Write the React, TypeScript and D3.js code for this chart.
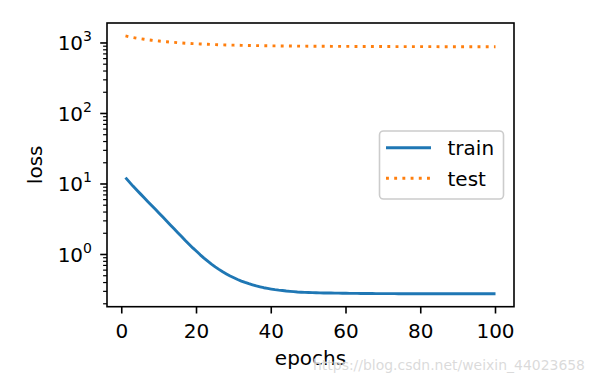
import React from "react";
import * as d3 from "d3";

const epochs: number[] = Array.from({ length: 100 }, (_, i) => i + 1);

const trainLoss: number[] = [
  12.3, 10.7, 9.33, 8.22, 7.24, 6.38, 5.62, 4.95, 4.37, 3.85,
  3.39, 2.99, 2.63, 2.32, 2.04, 1.8, 1.58, 1.4, 1.24, 1.11,
  0.99, 0.89, 0.805, 0.731, 0.668, 0.615, 0.569, 0.53, 0.495, 0.467,
  0.442, 0.42, 0.401, 0.385, 0.371, 0.358, 0.348, 0.338, 0.33, 0.323,
  0.317, 0.312, 0.308, 0.303, 0.3, 0.297, 0.294, 0.292, 0.29, 0.289,
  0.288, 0.287, 0.286, 0.285, 0.285, 0.284, 0.283, 0.283, 0.282, 0.282,
  0.281, 0.281, 0.281, 0.28, 0.28, 0.28, 0.28, 0.279, 0.279, 0.279,
  0.279, 0.279, 0.279, 0.278, 0.278, 0.278, 0.278, 0.278, 0.278, 0.278,
  0.278, 0.278, 0.278, 0.278, 0.278, 0.277, 0.277, 0.277, 0.277, 0.277,
  0.277, 0.277, 0.277, 0.277, 0.277, 0.277, 0.277, 0.277, 0.277, 0.277,
];

const testLoss: number[] = [
  1260, 1225, 1195, 1170, 1148, 1128, 1110, 1094, 1079, 1065,
  1052, 1040, 1029, 1019, 1010, 1001, 993, 986, 979, 973,
  967, 962, 957, 952, 948, 944, 940, 937, 934, 931,
  928, 925, 923, 921, 919, 917, 915, 913, 912, 910,
  909, 908, 907, 906, 905, 904, 903, 902, 901, 900,
  899, 898, 898, 897, 897, 896, 896, 895, 895, 894,
  894, 893, 893, 892, 892, 892, 891, 891, 891, 890,
  890, 890, 889, 889, 889, 889, 888, 888, 888, 888,
  887, 887, 887, 887, 886, 886, 886, 886, 886, 885,
  885, 885, 885, 885, 884, 884, 884, 884, 884, 884,
];

const xTicks: number[] = [0, 20, 40, 60, 80, 100];
const yTickExps: number[] = [0, 1, 2, 3];
const seriesNames: string[] = ["train", "test"];
const xLabel = "epochs";
const yLabel = "loss";
const watermark = "https://blog.csdn.net/weixin_44023658";

const W = 595;
const H = 383;
const L = 107, R = 514, T = 23, B = 306.7;
const FONT = "DejaVu Sans, sans-serif";
const FS = 20;

export default function App() {
  const xMin = 1, xMax = 100;
  const xPad = (xMax - xMin) * 0.05;
  const x = d3.scaleLinear().domain([xMin - xPad, xMax + xPad]).range([L, R]);

  const all = trainLoss.concat(testLoss);
  const lmin = Math.log10(d3.min(all)!);
  const lmax = Math.log10(d3.max(all)!);
  const lp = (lmax - lmin) * 0.05;
  const y = d3.scaleLog().domain([Math.pow(10, lmin - lp), Math.pow(10, lmax + lp)]).range([B, T]);
  const [yd0, yd1] = y.domain();

  const line = (vals: number[]) =>
    d3.line<number>().x((_, i) => x(epochs[i])).y((v) => y(v))(vals) || "";

  const minor: number[] = [];
  for (let e = -2; e <= 4; e++) {
    for (let m = 2; m <= 9; m++) {
      const v = m * Math.pow(10, e);
      if (v >= yd0 && v <= yd1) minor.push(v);
    }
  }

  const colors = ["#1f77b4", "#ff7f0e"];

  return (
    <svg width={W} height={H} style={{ position: "absolute", left: 0, top: 0, background: "#fff" }}>
      <rect x={0} y={0} width={W} height={H} fill="#fff" />
      <defs>
        <clipPath id="clip">
          <rect x={L} y={T} width={R - L} height={B - T} />
        </clipPath>
      </defs>
      <g clipPath="url(#clip)">
        <path d={line(trainLoss)} fill="none" stroke={colors[0]} strokeWidth={2.9} strokeLinejoin="round" />
        <path d={line(testLoss)} fill="none" stroke={colors[1]} strokeWidth={2.9} strokeDasharray="2.9 5.3" />
      </g>
      {/* spines */}
      <rect x={L} y={T} width={R - L} height={B - T} fill="none" stroke="#000" strokeWidth={1.6} />
      {/* x ticks */}
      {xTicks.map((t) => (
        <g key={"x" + t}>
          <line x1={x(t)} x2={x(t)} y1={B} y2={B + 6.8} stroke="#000" strokeWidth={1.6} />
          <text x={x(t)} y={337.5} textAnchor="middle" fontFamily={FONT} fontSize={FS} fill="#000">
            {t}
          </text>
        </g>
      ))}
      {/* y minor ticks */}
      {minor.map((v, i) => (
        <line key={"m" + i} x1={L - 3.9} x2={L} y1={y(v)} y2={y(v)} stroke="#000" strokeWidth={1.2} />
      ))}
      {/* y major ticks */}
      {yTickExps.map((e) => {
        const yy = y(Math.pow(10, e));
        return (
          <g key={"y" + e}>
            <line x1={L - 6.8} x2={L} y1={yy} y2={yy} stroke="#000" strokeWidth={1.6} />
            <text x={92} y={yy + 7.5} textAnchor="end" fontFamily={FONT} fontSize={FS} fill="#000">
              10
              <tspan fontSize={14} dy={-9}>{e}</tspan>
            </text>
          </g>
        );
      })}
      {/* axis labels */}
      <text x={(L + R) / 2} y={365} textAnchor="middle" fontFamily={FONT} fontSize={FS} fill="#000">
        {xLabel}
      </text>
      <text
        transform={`translate(42, ${(T + B) / 2}) rotate(-90)`}
        textAnchor="middle"
        fontFamily={FONT}
        fontSize={FS}
        fill="#000"
      >
        {yLabel}
      </text>
      {/* legend */}
      <rect x={379.5} y={131} width={124} height={68} rx={4} ry={4} fill="#fff" fillOpacity={0.8} stroke="#ccc" strokeWidth={1.6} />
      {seriesNames.map((n, i) => {
        const yy = 147.8 + i * 30.5;
        return (
          <g key={n}>
            <line
              x1={386}
              x2={431}
              y1={yy}
              y2={yy}
              stroke={colors[i]}
              strokeWidth={2.9}
              strokeDasharray={i === 1 ? "2.9 5.3" : undefined}
            />
            <text x={447.5} y={yy + 7.5} fontFamily={FONT} fontSize={FS} fill="#000">
              {n}
            </text>
          </g>
        );
      })}
      {/* watermark */}
      <text
        x={313}
        y={370}
        fontFamily={FONT}
        fontSize={14}
        textLength={272}
        lengthAdjust="spacingAndGlyphs"
        fill="#d4d4d4"
        fillOpacity={0.85}
        stroke="#fff"
        strokeWidth={1}
        strokeOpacity={0.6}
        style={{ paintOrder: "stroke" }}
      >
        {watermark}
      </text>
    </svg>
  );
}
